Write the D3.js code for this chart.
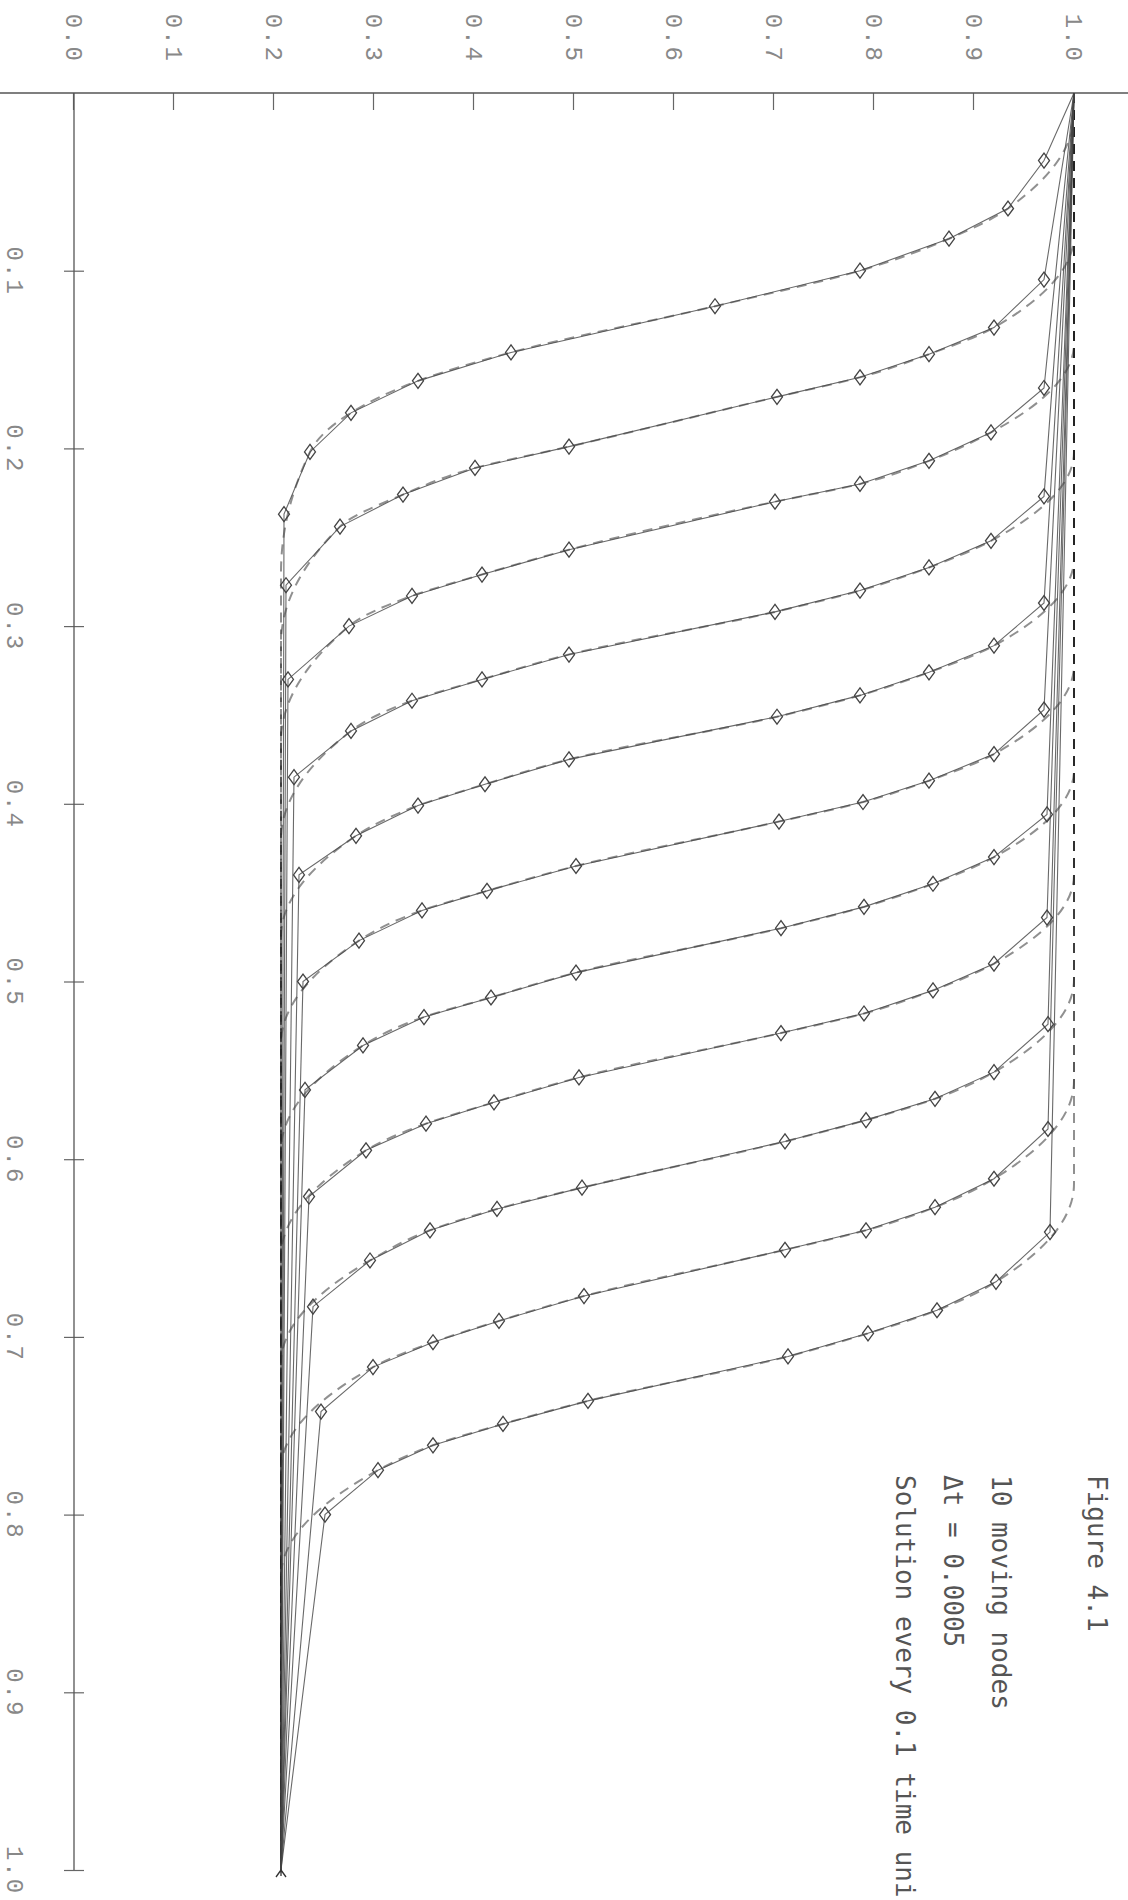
<!DOCTYPE html>
<html>
<head>
<meta charset="utf-8">
<script src="https://cdn.jsdelivr.net/npm/d3@7"></script>
<style>
  body { margin: 0; background: #fff; }
</style>
</head>
<body>
<svg id="fig"></svg>
<script>
// one snapshot every 0.1 time units
var times = [0.0, 0.1, 0.2, 0.3, 0.4, 0.5, 0.6, 0.7, 0.8, 0.9, 1.0];

// positions of the 10 moving nodes, per snapshot
var nodeX = [
  [0.038, 0.065, 0.082, 0.100, 0.120, 0.146, 0.162, 0.180, 0.202, 0.237],
  [0.105, 0.132, 0.147, 0.160, 0.171, 0.199, 0.211, 0.226, 0.244, 0.277],
  [0.166, 0.191, 0.207, 0.220, 0.230, 0.257, 0.271, 0.283, 0.300, 0.330],
  [0.227, 0.252, 0.267, 0.280, 0.292, 0.316, 0.330, 0.342, 0.359, 0.385],
  [0.287, 0.311, 0.326, 0.339, 0.351, 0.375, 0.389, 0.401, 0.418, 0.440],
  [0.347, 0.372, 0.387, 0.399, 0.410, 0.435, 0.449, 0.460, 0.477, 0.500],
  [0.406, 0.430, 0.445, 0.458, 0.470, 0.495, 0.509, 0.520, 0.536, 0.561],
  [0.464, 0.490, 0.505, 0.518, 0.529, 0.554, 0.568, 0.580, 0.595, 0.621],
  [0.524, 0.551, 0.566, 0.578, 0.590, 0.616, 0.628, 0.640, 0.657, 0.683],
  [0.583, 0.611, 0.627, 0.640, 0.651, 0.677, 0.691, 0.703, 0.717, 0.742],
  [0.641, 0.669, 0.685, 0.698, 0.711, 0.736, 0.749, 0.761, 0.775, 0.800]
];

// solution value at those nodes
var nodeU = [
  [0.970, 0.934, 0.875, 0.786, 0.641, 0.437, 0.344, 0.277, 0.236, 0.210],
  [0.970, 0.920, 0.855, 0.786, 0.703, 0.495, 0.401, 0.329, 0.266, 0.212],
  [0.970, 0.917, 0.855, 0.786, 0.701, 0.495, 0.408, 0.338, 0.275, 0.214],
  [0.970, 0.917, 0.855, 0.786, 0.701, 0.495, 0.408, 0.338, 0.277, 0.220],
  [0.970, 0.920, 0.855, 0.786, 0.703, 0.495, 0.411, 0.344, 0.282, 0.225],
  [0.970, 0.920, 0.855, 0.789, 0.705, 0.502, 0.413, 0.348, 0.285, 0.229],
  [0.973, 0.920, 0.859, 0.790, 0.707, 0.502, 0.417, 0.350, 0.289, 0.231],
  [0.973, 0.920, 0.859, 0.790, 0.707, 0.505, 0.420, 0.352, 0.292, 0.235],
  [0.974, 0.920, 0.861, 0.792, 0.711, 0.508, 0.423, 0.356, 0.296, 0.239],
  [0.974, 0.920, 0.861, 0.792, 0.711, 0.510, 0.425, 0.359, 0.299, 0.247],
  [0.976, 0.922, 0.863, 0.794, 0.714, 0.514, 0.429, 0.359, 0.304, 0.251]
];

// fixed end nodes
var leftU = 1.0;
var rightU = 0.207;

// dashed (exact) curves: where they leave the upper state and reach the lower one
var exactTop = [0.012, 0.080, 0.141, 0.202, 0.262, 0.322, 0.381, 0.440, 0.499, 0.556, 0.614];
var exactBottom = [0.270, 0.310, 0.365, 0.420, 0.475, 0.535, 0.595, 0.655, 0.715, 0.775, 0.835];

var xTicks = [0.1, 0.2, 0.3, 0.4, 0.5, 0.6, 0.7, 0.8, 0.9, 1.0];
var uTicks = [0.0, 0.1, 0.2, 0.3, 0.4, 0.5, 0.6, 0.7, 0.8, 0.9, 1.0];

// last line runs off the bottom of the page in the original
var notes = ["Figure 4.1", "", "10 moving nodes", "\u0394t = 0.0005", "Solution every 0.1 time uni"];


function drawFigure(width, height){

    var plotLen = 1777;   // x from 0 to 1
    var plotHt = 1000;    // u from 0 to 1
    var origin = {"x": 1074, "y": 93};

    var svg = d3.select('#fig');
    svg.selectAll("*").remove();
    svg.attr("width", width).attr("height", height);

    svg.append('rect')
        .attr('width', width)
        .attr('height', height)
        .attr('fill', '#fff');

    // the plot is printed turned a quarter turn: x runs down the page, u runs right
    var g = svg.append('g')
        .attr('transform', `translate(${origin.x},${origin.y}) rotate(90)`);

    // scales
    var xScale = d3.scaleLinear()
        .domain([0, 1])
        .range([0, plotLen]);

    var uScale = d3.scaleLinear()
        .domain([0, 1])
        .range([plotHt, 0]);

    // u axis (along the top of the page)
    var uAxis = d3.axisLeft(uScale)
        .tickValues(uTicks)
        .tickFormat(d3.format(".1f"))
        .tickSizeInner(-17)
        .tickSizeOuter(0)
        .tickPadding(30);

    var ua = g.append('g').call(uAxis);
    ua.select(".domain").remove();
    ua.attr("font-family", "'Liberation Mono', monospace").attr("font-size", 24);
    ua.selectAll(".tick line").attr("stroke", "#666").attr("stroke-width", 1.2);
    ua.selectAll(".tick text").attr("fill", "#888").style("letter-spacing", "2px");

    g.append('line')
        .attr('x1', 0).attr('x2', 0)
        .attr('y1', uScale(-0.08)).attr('y2', uScale(1.06))
        .attr('stroke', '#555')
        .attr('stroke-width', 1.5);

    // x axis (down the left side)
    var xAxis = d3.axisBottom(xScale)
        .tickValues(xTicks)
        .tickFormat(d3.format(".1f"))
        .tickSizeInner(10)
        .tickSizeOuter(0)
        .tickPadding(40);

    var xa = g.append('g')
        .attr('transform', `translate(0,${uScale(0)})`)
        .call(xAxis);
    xa.select(".domain").remove();
    xa.attr("font-family", "'Liberation Mono', monospace").attr("font-size", 24);
    xa.selectAll(".tick line").attr("y1", -10).attr("stroke", "#666").attr("stroke-width", 1.2);
    xa.selectAll(".tick text").attr("fill", "#888").style("letter-spacing", "2px");

    g.append('line')
        .attr('x1', xScale(0)).attr('x2', xScale(1))
        .attr('y1', uScale(0)).attr('y2', uScale(0))
        .attr('stroke', '#555')
        .attr('stroke-width', 1.3);

    // dashed curves
    var exactLine = d3.line()
        .x(function(d){ return xScale(d[0]) })
        .y(function(d){ return uScale(d[1]) })
        .curve(d3.curveMonotoneX);

    times.forEach(function(t, i){
        let pts = [[0, leftU], [exactTop[i], leftU]];
        for (let k = 1; k < 9; k++){ pts.push([nodeX[i][k], nodeU[i][k]]) }
        pts.push([exactBottom[i], rightU]);
        pts.push([1, rightU]);

        g.append('path')
            .attr('d', exactLine(pts))
            .attr('fill', 'none')
            .attr('stroke', '#222')
            .attr('stroke-opacity', 0.5)
            .attr('stroke-width', 2)
            .attr('stroke-dasharray', '10,7');
    })

    // moving node solutions
    var nodeLine = d3.line()
        .x(function(d){ return xScale(d[0]) })
        .y(function(d){ return uScale(d[1]) });

    times.forEach(function(t, i){
        let pts = nodeX[i].map(function(x, k){ return [x, nodeU[i][k]] });
        let full = [[0, leftU]].concat(pts, [[1, rightU]]);

        g.append('path')
            .attr('d', nodeLine(full))
            .attr('fill', 'none')
            .attr('stroke', '#444')
            .attr('stroke-opacity', 0.8)
            .attr('stroke-width', 1.1);

        g.selectAll(null)
            .data(pts)
            .enter()
            .append('path')
            .attr('d', 'M0,-5.5L7.5,0L0,5.5L-7.5,0Z')
            .attr('transform', function(d){ return `translate(${xScale(d[0])},${uScale(d[1])})` })
            .attr('fill', 'none')
            .attr('stroke', '#444')
            .attr('stroke-width', 1.3);
    })

    // end marker at the fixed right node
    var ex = xScale(1), ey = uScale(rightU);
    g.append('path')
        .attr('d', `M${ex},${ey}L${ex + 7},${ey - 5}M${ex},${ey}L${ex + 7},${ey + 5}M${ex},${ey}L${ex + 6},${ey}`)
        .attr('fill', 'none')
        .attr('stroke', '#333')
        .attr('stroke-width', 1.3);

    // notes
    notes.forEach(function(s, i){
        if (s !== ""){
            g.append('text')
                .attr('x', 1382)
                .attr('y', -14 + i * 48)
                .style('font-family', "'DejaVu Sans Mono', monospace")
                .style('font-size', '26px')
                .style('fill', '#555')
                .text(s);
        }
    })
}

drawFigure(1128, 1900);
</script>
</body>
</html>
